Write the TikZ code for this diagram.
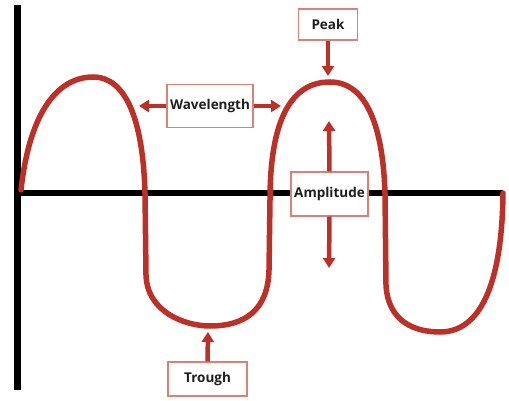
\documentclass[tikz,border=0pt]{standalone}
\usepackage{fontspec}
\setmainfont{Open Sans}
\usetikzlibrary{arrows.meta,positioning}
\definecolor{wavered}{RGB}{187,49,39}
\definecolor{boxline}{RGB}{218,128,116}
\definecolor{labtext}{RGB}{30,30,30}

\begin{document}
\begin{tikzpicture}[
  x=1pt, y=-1pt,
  font=\fontsize{13.5}{16}\selectfont\bfseries,
  axis/.style={line width=6.5pt, black},
  wave/.style={line width=5.5pt, wavered, line cap=round},
  lbl/.style={draw=boxline, line width=1.2pt, fill=white, text=labtext,
    inner sep=2pt, align=center},
  pointer/.style={-{Triangle[length=10pt,width=12pt]}, line width=4.5pt, wavered}
]
\useasboundingbox (0,0) rectangle (509,401);

% axes
\draw[axis] (17.5,5) -- (17.5,390);
\draw[axis] (17.5,193) -- (503,193);

% the wave
\draw[wave] (21,190) .. controls (30,108) and (60,77) .. (93,77)
  .. controls (126,77) and (143,120) .. (145,193) -- (146,275)
  .. controls (147,312) and (185,326) .. (210,326)
  .. controls (245,326) and (268,310) .. (269,270) -- (270,200)
  .. controls (270,118) and (292,82) .. (330,82)
  .. controls (368,82) and (383,130) .. (385,193) -- (386,285)
  .. controls (388,322) and (415,332) .. (440,332)
  .. controls (480,332) and (502,285) .. (503,193);

% labels
\node[lbl, minimum width=86pt, minimum height=43pt] (wl) at (210,106) {Wavelength};
\node[lbl, minimum width=59pt, minimum height=31pt] (pk) at (328,24.5) {Peak};
\node[lbl, minimum width=77pt, minimum height=44pt] (amp) at (329.5,194) {Amplitude};
\node[lbl, minimum width=79pt, minimum height=34pt] (tr) at (207.5,379) {Trough};

% arrow tips
\coordinate (wlL) at (139,106);
\coordinate (wlR) at (281,106);
\coordinate (pkT) at (328,76);
\coordinate (ampU) at (329,121);
\coordinate (ampD) at (329,268);
\coordinate (trT) at (208,332);

\draw[pointer] (wl.west) -- (wlL);
\draw[pointer] (wl.east) -- (wlR);
\draw[pointer] (pk.south) -- (pkT);
\draw[pointer] (amp.north) -- (ampU);
\draw[pointer] (amp.south) -- (ampD);
\draw[pointer] (tr.north) -- (trT);
\end{tikzpicture}
\end{document}
